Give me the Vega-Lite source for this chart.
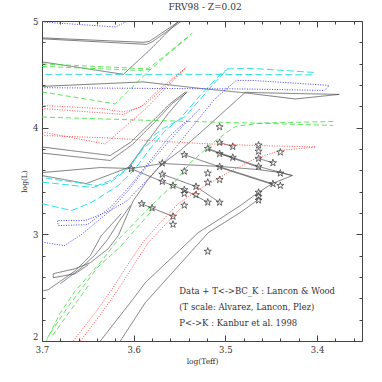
{
"$schema": "https://vega.github.io/schema/vega-lite/v6.json",
"width": 320, "height": 320,
"autosize": "none",
"padding": {"left": 42, "top": 21, "right": 20, "bottom": 41},
"config": {"view": {"stroke": "#444", "strokeWidth": 1}, "font": "DejaVu Serif"},
"title": {"text": "FRV98  -  Z=0.02", "fontSize": 9, "fontWeight": "normal", "font": "DejaVu Serif", "color": "#333", "offset": 5, "dx": 3},
"datasets": {
"lines": [
{"id":"k1","g":"k","o":1,"x":3.7,"y":4.842},{"id":"k1","g":"k","o":2,"x":3.5895,"y":4.800},{"id":"k1","g":"k","o":3,"x":3.5830,"y":4.809},{"id":"k1","g":"k","o":4,"x":3.5503,"y":4.997},
{"id":"k2","g":"k","o":1,"x":3.7,"y":4.833},{"id":"k2","g":"k","o":2,"x":3.5863,"y":4.781},{"id":"k2","g":"k","o":3,"x":3.5797,"y":4.805},{"id":"k2","g":"k","o":4,"x":3.5481,"y":4.997},
{"id":"k3","g":"k","o":1,"x":3.7,"y":4.617},{"id":"k3","g":"k","o":2,"x":3.6113,"y":4.500},{"id":"k3","g":"k","o":3,"x":3.5841,"y":4.715},{"id":"k3","g":"k","o":4,"x":3.5514,"y":4.997},
{"id":"k5","g":"k","o":1,"x":3.7,"y":4.387},{"id":"k5","g":"k","o":2,"x":3.5895,"y":4.429},{"id":"k5","g":"k","o":3,"x":3.5274,"y":4.368},{"id":"k5","g":"k","o":4,"x":3.4783,"y":4.326},{"id":"k5","g":"k","o":5,"x":3.4238,"y":4.269},{"id":"k5","g":"k","o":6,"x":3.3758,"y":4.312},{"id":"k5","g":"k","o":7,"x":3.4292,"y":4.321},{"id":"k5","g":"k","o":8,"x":3.4783,"y":4.331},{"id":"k5","g":"k","o":9,"x":3.5219,"y":3.993},{"id":"k5","g":"k","o":10,"x":3.5492,"y":3.786},{"id":"k5","g":"k","o":11,"x":3.5710,"y":3.645},{"id":"k5","g":"k","o":12,"x":3.5852,"y":3.504},{"id":"k5","g":"k","o":13,"x":3.6004,"y":3.316},{"id":"k5","g":"k","o":14,"x":3.6168,"y":2.988},{"id":"k5","g":"k","o":15,"x":3.6277,"y":2.866},{"id":"k5","g":"k","o":16,"x":3.6473,"y":2.734},{"id":"k5","g":"k","o":17,"x":3.6637,"y":2.678},{"id":"k5","g":"k","o":18,"x":3.6877,"y":2.631},{"id":"k5","g":"k","o":19,"x":3.6877,"y":2.593},{"id":"k5","g":"k","o":20,"x":3.6637,"y":2.631},{"id":"k5","g":"k","o":21,"x":3.6495,"y":2.715},
{"id":"k6","g":"k","o":1,"x":3.7,"y":3.819},{"id":"k6","g":"k","o":2,"x":3.6255,"y":3.739},{"id":"k6","g":"k","o":3,"x":3.6037,"y":3.861},{"id":"k6","g":"k","o":4,"x":3.5786,"y":4.068},{"id":"k6","g":"k","o":5,"x":3.5601,"y":4.227},{"id":"k6","g":"k","o":6,"x":3.5426,"y":4.340},
{"id":"k7","g":"k","o":1,"x":3.7,"y":3.762},{"id":"k7","g":"k","o":2,"x":3.6255,"y":3.692},{"id":"k7","g":"k","o":3,"x":3.6015,"y":3.842},{"id":"k7","g":"k","o":4,"x":3.5764,"y":4.058},{"id":"k7","g":"k","o":5,"x":3.5579,"y":4.227},{"id":"k7","g":"k","o":6,"x":3.5416,"y":4.331},
{"id":"k9","g":"k","o":1,"x":3.7,"y":3.551},{"id":"k9","g":"k","o":2,"x":3.6517,"y":3.476},{"id":"k9","g":"k","o":3,"x":3.6059,"y":3.626},{"id":"k9","g":"k","o":4,"x":3.5841,"y":3.880},{"id":"k9","g":"k","o":5,"x":3.5623,"y":4.133},{"id":"k9","g":"k","o":6,"x":3.5426,"y":4.331},
{"id":"k10","g":"k","o":1,"x":3.6986,"y":2.471},{"id":"k10","g":"k","o":2,"x":3.6931,"y":2.481},{"id":"k10","g":"k","o":3,"x":3.6637,"y":2.659},{"id":"k10","g":"k","o":4,"x":3.6473,"y":2.800},{"id":"k10","g":"k","o":5,"x":3.6353,"y":2.988},{"id":"k10","g":"k","o":6,"x":3.6135,"y":3.194},
{"id":"k11","g":"k","o":1,"x":3.6800,"y":2.537},{"id":"k11","g":"k","o":2,"x":3.6582,"y":2.678},{"id":"k11","g":"k","o":3,"x":3.6419,"y":2.809},{"id":"k11","g":"k","o":4,"x":3.6277,"y":2.960},{"id":"k11","g":"k","o":5,"x":3.6168,"y":3.110},{"id":"k11","g":"k","o":6,"x":3.6037,"y":3.269},
{"id":"kh","g":"k","o":1,"x":3.7,"y":3.579},{"id":"kh","g":"k","o":2,"x":3.6364,"y":3.626},{"id":"kh","g":"k","o":3,"x":3.6026,"y":3.617},{"id":"kh","g":"k","o":4,"x":3.5688,"y":3.664},{"id":"kh","g":"k","o":5,"x":3.5056,"y":3.636},{"id":"kh","g":"k","o":6,"x":3.4641,"y":3.607},{"id":"kh","g":"k","o":7,"x":3.4401,"y":3.579},{"id":"kh","g":"k","o":8,"x":3.4270,"y":3.551},{"id":"kh","g":"k","o":9,"x":3.4489,"y":3.476},{"id":"kh","g":"k","o":10,"x":3.4641,"y":3.392},{"id":"kh","g":"k","o":11,"x":3.4838,"y":3.269},{"id":"kh","g":"k","o":12,"x":3.5056,"y":3.147},{"id":"kh","g":"k","o":13,"x":3.5296,"y":3.016},{"id":"kh","g":"k","o":14,"x":3.5874,"y":2.546},{"id":"kh","g":"k","o":15,"x":3.6004,"y":2.396},{"id":"kh","g":"k","o":16,"x":3.6364,"y":2.0},
{"id":"kq","g":"k","o":1,"x":3.6146,"y":2.0},{"id":"kq","g":"k","o":2,"x":3.5874,"y":2.359},{"id":"kq","g":"k","o":3,"x":3.5186,"y":3.016},{"id":"kq","g":"k","o":4,"x":3.4838,"y":3.204},{"id":"kq","g":"k","o":5,"x":3.4641,"y":3.326},
{"id":"cl1","g":"k","o":1,"x":3.5063,"y":3.861},{"id":"cl1","g":"k","o":2,"x":3.4919,"y":3.823},
{"id":"cl2","g":"k","o":1,"x":3.5192,"y":3.805},{"id":"cl2","g":"k","o":2,"x":3.4919,"y":3.720},{"id":"cl2","g":"k","o":3,"x":3.4638,"y":3.636},{"id":"cl2","g":"k","o":4,"x":3.4270,"y":3.551},
{"id":"cl2b","g":"k","o":1,"x":3.5192,"y":3.798},{"id":"cl2b","g":"k","o":2,"x":3.4919,"y":3.713},{"id":"cl2b","g":"k","o":3,"x":3.4638,"y":3.629},
{"id":"cl3","g":"k","o":1,"x":3.5063,"y":3.755},{"id":"cl3","g":"k","o":2,"x":3.4919,"y":3.720},
{"id":"cl4","g":"k","o":1,"x":3.4638,"y":3.711},{"id":"cl4","g":"k","o":2,"x":3.4481,"y":3.670},
{"id":"cl5","g":"k","o":1,"x":3.5448,"y":3.746},{"id":"cl5","g":"k","o":2,"x":3.5063,"y":3.633},{"id":"cl5","g":"k","o":3,"x":3.4481,"y":3.473},
{"id":"cl5b","g":"k","o":1,"x":3.5063,"y":3.627},{"id":"cl5b","g":"k","o":2,"x":3.4481,"y":3.466},
{"id":"cl6","g":"k","o":1,"x":3.6026,"y":3.614},{"id":"cl6","g":"k","o":2,"x":3.5688,"y":3.495},{"id":"cl6","g":"k","o":3,"x":3.5571,"y":3.457},{"id":"cl6","g":"k","o":4,"x":3.5448,"y":3.417},{"id":"cl6","g":"k","o":5,"x":3.5192,"y":3.300},
{"id":"cl7","g":"k","o":1,"x":3.5688,"y":3.563},{"id":"cl7","g":"k","o":2,"x":3.5321,"y":3.448},{"id":"cl7","g":"k","o":3,"x":3.5063,"y":3.299},
{"id":"cl9","g":"k","o":1,"x":3.5912,"y":3.286},{"id":"cl9","g":"k","o":2,"x":3.5800,"y":3.246},{"id":"cl9","g":"k","o":3,"x":3.5571,"y":3.168},
{"id":"g1","g":"g","o":1,"x":3.7,"y":4.598},{"id":"g1","g":"g","o":2,"x":3.5841,"y":4.551},{"id":"g1","g":"g","o":3,"x":3.5361,"y":4.885},
{"id":"g1b","g":"g","o":1,"x":3.7,"y":4.574},{"id":"g1b","g":"g","o":2,"x":3.5928,"y":4.537},{"id":"g1b","g":"g","o":3,"x":3.5819,"y":4.546},
{"id":"g2","g":"g","o":1,"x":3.7,"y":4.335},{"id":"g2","g":"g","o":2,"x":3.6201,"y":4.223},{"id":"g2","g":"g","o":3,"x":3.5841,"y":4.528},{"id":"g2","g":"g","o":4,"x":3.5601,"y":4.706},{"id":"g2","g":"g","o":5,"x":3.5383,"y":4.866},
{"id":"g3","g":"g","o":1,"x":3.7,"y":4.100},{"id":"g3","g":"g","o":2,"x":3.5819,"y":4.068},{"id":"g3","g":"g","o":3,"x":3.4728,"y":4.044},{"id":"g3","g":"g","o":4,"x":3.3823,"y":4.021},
{"id":"g4","g":"g","o":1,"x":3.3823,"y":4.058},{"id":"g4","g":"g","o":2,"x":3.4598,"y":4.044},{"id":"g4","g":"g","o":3,"x":3.4892,"y":4.011},{"id":"g4","g":"g","o":4,"x":3.5001,"y":3.946},{"id":"g4","g":"g","o":5,"x":3.5132,"y":3.861},{"id":"g4","g":"g","o":6,"x":3.5383,"y":3.670},{"id":"g4","g":"g","o":7,"x":3.5601,"y":3.439},{"id":"g4","g":"g","o":8,"x":3.5786,"y":3.288},{"id":"g4","g":"g","o":9,"x":3.6179,"y":2.941},{"id":"g4","g":"g","o":10,"x":3.6364,"y":2.734},{"id":"g4","g":"g","o":11,"x":3.6637,"y":2.471},{"id":"g4","g":"g","o":12,"x":3.6800,"y":2.265},{"id":"g4","g":"g","o":13,"x":3.6953,"y":2.002},
{"id":"g5","g":"g","o":1,"x":3.5819,"y":3.204},{"id":"g5","g":"g","o":2,"x":3.6146,"y":2.884},{"id":"g5","g":"g","o":3,"x":3.6397,"y":2.687},{"id":"g5","g":"g","o":4,"x":3.6724,"y":2.312},{"id":"g5","g":"g","o":5,"x":3.6942,"y":2.030},
{"id":"g6","g":"g","o":1,"x":3.6495,"y":2.518},{"id":"g6","g":"g","o":2,"x":3.6691,"y":2.284},{"id":"g6","g":"g","o":3,"x":3.6888,"y":2.049},
{"id":"r1","g":"r","o":1,"x":3.7,"y":4.208},{"id":"r1","g":"r","o":2,"x":3.6364,"y":4.180},{"id":"r1","g":"r","o":3,"x":3.6113,"y":4.147},{"id":"r1","g":"r","o":4,"x":3.5928,"y":4.190},{"id":"r1","g":"r","o":5,"x":3.5710,"y":4.368},{"id":"r1","g":"r","o":6,"x":3.5437,"y":4.556},
{"id":"r1b","g":"r","o":1,"x":3.7,"y":4.180},{"id":"r1b","g":"r","o":2,"x":3.6113,"y":4.124},{"id":"r1b","g":"r","o":3,"x":3.5874,"y":4.218},{"id":"r1b","g":"r","o":4,"x":3.5655,"y":4.387},{"id":"r1b","g":"r","o":5,"x":3.5416,"y":4.575},
{"id":"r2","g":"r","o":1,"x":3.7,"y":3.960},{"id":"r2","g":"r","o":2,"x":3.6310,"y":3.847},{"id":"r2","g":"r","o":3,"x":3.6092,"y":4.011},{"id":"r2","g":"r","o":4,"x":3.5852,"y":4.190},{"id":"r2","g":"r","o":5,"x":3.5655,"y":4.368},{"id":"r2","g":"r","o":6,"x":3.5437,"y":4.556},
{"id":"r3","g":"r","o":1,"x":3.7,"y":3.927},{"id":"r3","g":"r","o":2,"x":3.6255,"y":3.903},{"id":"r3","g":"r","o":3,"x":3.5841,"y":3.880},{"id":"r3","g":"r","o":4,"x":3.5274,"y":3.852},{"id":"r3","g":"r","o":5,"x":3.4674,"y":3.833},{"id":"r3","g":"r","o":6,"x":3.4009,"y":3.819},
{"id":"r4","g":"r","o":1,"x":3.6659,"y":2.0},{"id":"r4","g":"r","o":2,"x":3.6419,"y":2.265},{"id":"r4","g":"r","o":3,"x":3.6233,"y":2.490},{"id":"r4","g":"r","o":4,"x":3.6037,"y":2.753},{"id":"r4","g":"r","o":5,"x":3.5895,"y":2.931},{"id":"r4","g":"r","o":6,"x":3.5710,"y":3.110},{"id":"r4","g":"r","o":7,"x":3.5514,"y":3.288},{"id":"r4","g":"r","o":8,"x":3.5274,"y":3.429},{"id":"r4","g":"r","o":9,"x":3.4968,"y":3.579},{"id":"r4","g":"r","o":10,"x":3.4674,"y":3.711},{"id":"r4","g":"r","o":11,"x":3.4401,"y":3.786},{"id":"r4","g":"r","o":12,"x":3.4009,"y":3.819},
{"id":"r4b","g":"r","o":1,"x":3.6582,"y":2.0},{"id":"r4b","g":"r","o":2,"x":3.6364,"y":2.246},{"id":"r4b","g":"r","o":3,"x":3.6179,"y":2.471},{"id":"r4b","g":"r","o":4,"x":3.5983,"y":2.734},{"id":"r4b","g":"r","o":5,"x":3.5841,"y":2.922},{"id":"r4b","g":"r","o":6,"x":3.5655,"y":3.091},{"id":"r4b","g":"r","o":7,"x":3.5492,"y":3.241},
{"id":"c1","g":"c","o":1,"x":3.6964,"y":4.500},{"id":"c1","g":"c","o":2,"x":3.5274,"y":4.500},{"id":"c1","g":"c","o":3,"x":3.4041,"y":4.495},{"id":"c1","g":"c","o":4,"x":3.4041,"y":4.518},{"id":"c1","g":"c","o":5,"x":3.4707,"y":4.556},{"id":"c1","g":"c","o":6,"x":3.4979,"y":4.551},{"id":"c1","g":"c","o":7,"x":3.5219,"y":4.321},{"id":"c1","g":"c","o":8,"x":3.5437,"y":4.105},{"id":"c1","g":"c","o":9,"x":3.5677,"y":3.993},{"id":"c1","g":"c","o":10,"x":3.5852,"y":3.880},{"id":"c1","g":"c","o":11,"x":3.6037,"y":3.636},{"id":"c1","g":"c","o":12,"x":3.6255,"y":3.504},{"id":"c1","g":"c","o":13,"x":3.6397,"y":3.457},{"id":"c1","g":"c","o":14,"x":3.7,"y":3.532},
{"id":"c1b","g":"c","o":1,"x":3.7,"y":3.490},{"id":"c1b","g":"c","o":2,"x":3.6451,"y":3.439},{"id":"c1b","g":"c","o":3,"x":3.6255,"y":3.485},{"id":"c1b","g":"c","o":4,"x":3.6059,"y":3.617},{"id":"c1b","g":"c","o":5,"x":3.5895,"y":3.805},{"id":"c1b","g":"c","o":6,"x":3.5710,"y":3.946},
{"id":"c2","g":"c","o":1,"x":3.7,"y":3.288},{"id":"c2","g":"c","o":2,"x":3.6680,"y":3.223},{"id":"c2","g":"c","o":3,"x":3.6462,"y":3.298},{"id":"c2","g":"c","o":4,"x":3.6168,"y":3.457},{"id":"c2","g":"c","o":5,"x":3.5983,"y":3.617},{"id":"c2","g":"c","o":6,"x":3.5819,"y":3.805},{"id":"c2","g":"c","o":7,"x":3.5655,"y":3.974},{"id":"c2","g":"c","o":8,"x":3.5492,"y":4.086},{"id":"c2","g":"c","o":9,"x":3.5274,"y":4.302},{"id":"c2","g":"c","o":10,"x":3.5034,"y":4.518},{"id":"c2","g":"c","o":11,"x":3.4979,"y":4.546},
{"id":"b1","g":"b","o":1,"x":3.7,"y":4.991},{"id":"b1","g":"b","o":2,"x":3.6201,"y":4.944},{"id":"b1","g":"b","o":3,"x":3.6070,"y":4.997},
{"id":"b2","g":"b","o":1,"x":3.7,"y":4.375},{"id":"b2","g":"b","o":2,"x":3.5819,"y":4.368},{"id":"b2","g":"b","o":3,"x":3.4707,"y":4.362},{"id":"b2","g":"b","o":4,"x":3.3921,"y":4.349},{"id":"b2","g":"b","o":5,"x":3.3867,"y":4.396},{"id":"b2","g":"b","o":6,"x":3.4707,"y":4.443},{"id":"b2","g":"b","o":7,"x":3.4881,"y":4.443},{"id":"b2","g":"b","o":8,"x":3.5110,"y":4.274},{"id":"b2","g":"b","o":9,"x":3.5306,"y":4.068},{"id":"b2","g":"b","o":10,"x":3.5655,"y":3.692},{"id":"b2","g":"b","o":11,"x":3.6070,"y":3.316},{"id":"b2","g":"b","o":12,"x":3.6255,"y":3.223},{"id":"b2","g":"b","o":13,"x":3.6528,"y":3.129},{"id":"b2","g":"b","o":14,"x":3.6833,"y":3.129},{"id":"b2","g":"b","o":15,"x":3.6822,"y":3.082},{"id":"b2","g":"b","o":16,"x":3.6506,"y":3.091},{"id":"b2","g":"b","o":17,"x":3.6255,"y":3.251},{"id":"b2","g":"b","o":18,"x":3.6037,"y":3.457},{"id":"b2","g":"b","o":19,"x":3.5819,"y":3.692},{"id":"b2","g":"b","o":20,"x":3.5601,"y":3.927},{"id":"b2","g":"b","o":21,"x":3.5416,"y":4.068},
{"id":"b3","g":"b","o":1,"x":3.7,"y":2.927},{"id":"b3","g":"b","o":2,"x":3.6757,"y":2.894},{"id":"b3","g":"b","o":3,"x":3.6571,"y":2.997},{"id":"b3","g":"b","o":4,"x":3.6255,"y":3.223},{"id":"b3","g":"b","o":5,"x":3.6059,"y":3.410},{"id":"b3","g":"b","o":6,"x":3.5874,"y":3.617},{"id":"b3","g":"b","o":7,"x":3.5655,"y":3.833},{"id":"b3","g":"b","o":8,"x":3.5459,"y":4.021},{"id":"b3","g":"b","o":9,"x":3.5274,"y":4.180}
],
"stars": [
{"x":3.5063,"y":4.007},{"x":3.5063,"y":3.861},{"x":3.4919,"y":3.823},{"x":3.5192,"y":3.805},{"x":3.4638,"y":3.836},{"x":3.4638,"y":3.778},{"x":3.4401,"y":3.770},{"x":3.5448,"y":3.746},{"x":3.5063,"y":3.755},{"x":3.4919,"y":3.720},{"x":3.4638,"y":3.711},{"x":3.4481,"y":3.670},{"x":3.5688,"y":3.667},{"x":3.5063,"y":3.633},{"x":3.4638,"y":3.636},{"x":3.6026,"y":3.614},{"x":3.5448,"y":3.591},{"x":3.5192,"y":3.573},{"x":3.4401,"y":3.573},{"x":3.5688,"y":3.563},{"x":3.5063,"y":3.512},{"x":3.5192,"y":3.487},{"x":3.5688,"y":3.495},{"x":3.5571,"y":3.457},{"x":3.4481,"y":3.473},{"x":3.4401,"y":3.457},{"x":3.5321,"y":3.448},{"x":3.5448,"y":3.417},{"x":3.5448,"y":3.382},{"x":3.5321,"y":3.370},{"x":3.4638,"y":3.393},{"x":3.4638,"y":3.354},{"x":3.4638,"y":3.319},{"x":3.5192,"y":3.300},{"x":3.5063,"y":3.299},{"x":3.5448,"y":3.272},{"x":3.5912,"y":3.286},{"x":3.5800,"y":3.246},{"x":3.5571,"y":3.168},{"x":3.5571,"y":3.093},{"x":3.5192,"y":2.840}
],
"notes": [
{"x":3.5503,"y":2.465,"t":"Data + T<->BC_K : Lancon & Wood"},
{"x":3.5503,"y":2.315,"t":"(T scale: Alvarez, Lancon, Plez)"},
{"x":3.5503,"y":2.171,"t":"P<->K : Kanbur et al. 1998"}
]
},
"layer": [
{
"data": {"name": "lines"},
"mark": {"type": "line", "clip": true, "strokeCap": "butt"},
"encoding": {
"x": {"field": "x", "type": "quantitative", "scale": {"domain": [3.351, 3.7], "reverse": true, "nice": false, "zero": false},
"axis": {"orient": "bottom", "values": [3.36,3.38,3.4,3.42,3.44,3.46,3.48,3.5,3.52,3.54,3.56,3.58,3.6,3.62,3.64,3.66,3.68,3.7],
"tickSize": {"condition": {"test": "abs(datum.value*10-round(datum.value*10))<0.01", "value": -6}, "value": -3},
"labelExpr": "abs(datum.value*10-round(datum.value*10))<0.01 ? format(datum.value,'.1f') : ''",
"labelOverlap": false, "labelFlush": false, "domain": false, "grid": false, "tickColor": "#444",
"labelFont": "DejaVu Serif", "labelFontSize": 8.5, "labelColor": "#333", "labelPadding": 10,
"title": "log(Teff)", "titleFont": "DejaVu Serif", "titleFontSize": 7.5, "titleFontWeight": "normal", "titleColor": "#333", "titlePadding": 1}},
"y": {"field": "y", "type": "quantitative", "scale": {"domain": [2, 5], "nice": false, "zero": false},
"axis": {"orient": "left", "values": [2,2.2,2.4,2.6,2.8,3,3.2,3.4,3.6,3.8,4,4.2,4.4,4.6,4.8,5],
"tickSize": {"condition": {"test": "abs(datum.value-round(datum.value))<0.01", "value": -6}, "value": -3},
"labelExpr": "abs(datum.value-round(datum.value))<0.01 ? format(datum.value,'d') : ''",
"labelOverlap": false, "labelFlush": false, "domain": false, "grid": false, "tickColor": "#444",
"labelFont": "DejaVu Serif", "labelFontSize": 8.5, "labelColor": "#333", "labelPadding": 10,
"labelBaseline": {"condition": {"test": "datum.value < 2.5", "value": "bottom"}, "value": "middle"},
"title": "log(L)", "titleFont": "DejaVu Serif", "titleFontSize": 7.5, "titleFontWeight": "normal", "titleColor": "#333", "titlePadding": 4}},
"detail": {"field": "id"},
"order": {"field": "o", "type": "quantitative"},
"color": {"field": "g", "type": "nominal", "scale": {"domain": ["k","g","r","c","b"], "range": ["#444444","#33dd33","#ff3333","#22dddd","#4444ff"]}, "legend": null},
"strokeDash": {"field": "g", "type": "nominal", "scale": {"domain": ["k","g","r","c","b"], "range": [[1,0],[5,3],[1,1.5],[7,3],[1,1.5]]}, "legend": null},
"strokeWidth": {"field": "g", "type": "nominal", "scale": {"domain": ["k","g","r","c","b"], "range": [0.7,1,1,1,1]}, "legend": null}
}
},
{
"data": {"name": "stars"},
"mark": {"type": "point", "shape": "M0,-1L0.225,-0.309L0.951,-0.309L0.363,0.118L0.588,0.809L0,0.382L-0.588,0.809L-0.363,0.118L-0.951,-0.309L-0.225,-0.309Z", "filled": false, "size": 55, "stroke": "#444", "strokeWidth": 0.8, "opacity": 1},
"encoding": {
"x": {"field": "x", "type": "quantitative",
"axis": {"orient": "top", "values": [3.36,3.38,3.4,3.42,3.44,3.46,3.48,3.5,3.52,3.54,3.56,3.58,3.6,3.62,3.64,3.66,3.68,3.7],
"tickSize": {"condition": {"test": "abs(datum.value*10-round(datum.value*10))<0.01", "value": -6}, "value": -3},
"labels": false, "domain": false, "grid": false, "tickColor": "#444", "title": null}},
"y": {"field": "y", "type": "quantitative",
"axis": {"orient": "right", "values": [2,2.2,2.4,2.6,2.8,3,3.2,3.4,3.6,3.8,4,4.2,4.4,4.6,4.8,5],
"tickSize": {"condition": {"test": "abs(datum.value-round(datum.value))<0.01", "value": -6}, "value": -3},
"labels": false, "domain": false, "grid": false, "tickColor": "#444", "title": null}}
}
},
{
"data": {"name": "notes"},
"mark": {"type": "text", "align": "left", "baseline": "middle", "font": "DejaVu Serif", "fontSize": 8.5, "color": "#333"},
"encoding": {
"x": {"field": "x", "type": "quantitative", "axis": null},
"y": {"field": "y", "type": "quantitative", "axis": null},
"text": {"field": "t"}
}
}
],
"resolve": {"axis": {"x": "independent", "y": "independent"}}
}
